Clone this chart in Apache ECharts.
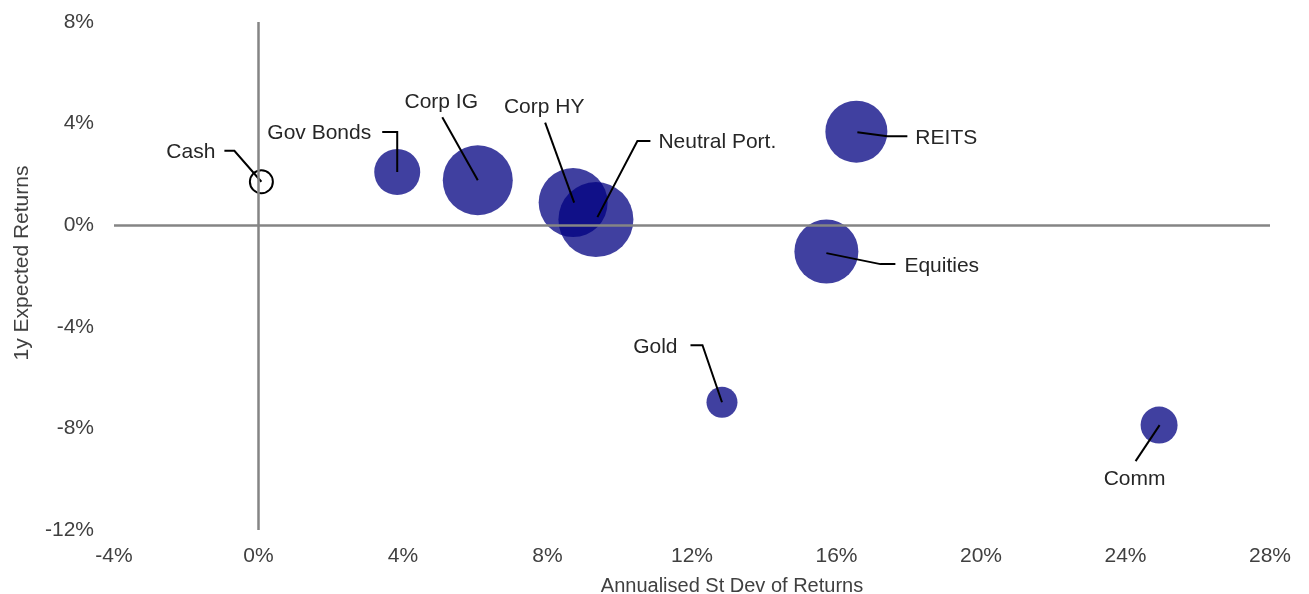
<!DOCTYPE html>
<html>
<head>
<meta charset="utf-8">
<script src="https://cdn.jsdelivr.net/npm/echarts@6/dist/echarts.min.js"></script>
<style>
html,body{margin:0;padding:0;background:#fff;}
#chart{width:1309px;height:594px;}
</style>
</head>
<body>
<div id="chart"></div>
<script>
// ---- Data ----
const assets      = ['Cash', 'Gov Bonds', 'Corp IG', 'Corp HY', 'Neutral Port.', 'REITS', 'Equities', 'Gold', 'Comm'];
const stdDev      = [0.08, 3.84, 6.07, 8.71, 9.34, 16.55, 15.72, 12.83, 24.93];   // x, %
const expReturn   = [1.71, 2.09, 1.77, 0.89, 0.22, 3.68, -1.04, -6.97, -7.87];   // y, %
const bubbleValue = [23, 46, 70, 69, 75, 62, 64, 31, 37];                          // bubble diameter value
const xTicks = [-4, 0, 4, 8, 12, 16, 20, 24, 28];
const yTicks = [-12, -8, -4, 0, 4, 8];

// ---- Label leader layout (pixel offsets from bubble centre; presentation only) ----
const leaders = [
  { pts: [[0,0],[-27,-31],[-37,-31]],          text: [-46,-30], align: 'right'  },
  { pts: [[0,0],[0,-40],[-15,-40]],            text: [-26,-39], align: 'right'  },
  { pts: [[0,0],[-35.5,-63]],                  text: [-36.5,-78], align: 'center' },
  { pts: [[1,0],[-28,-80]],                    text: [-29,-95.5], align: 'center' },
  { pts: [[1.5,-2.5],[41.5,-78.5],[54.5,-78.5]], text: [62.5,-77.5], align: 'left' },
  { pts: [[1,0.5],[31,4.5],[51,4.5]],          text: [59,6.5], align: 'left'   },
  { pts: [[0,1.5],[54,12.5],[69,12.5]],        text: [78,14.5], align: 'left'  },
  { pts: [[0,0],[-19.5,-57],[-31.5,-57]],      text: [-44.5,-55], align: 'right' },
  { pts: [[0.5,0],[-23.5,36]],                 text: [-24.5,54], align: 'center' }
];

const FONT = "'Liberation Sans', Arial, sans-serif";
const bubbleData = assets.map((n, i) => {
  const d = { name: n, value: [stdDev[i], expReturn[i], bubbleValue[i]] };
  if (n === 'Cash') {
    d.itemStyle = { color: 'rgba(255,255,255,0)', borderColor: '#000', borderWidth: 2, opacity: 1 };
  }
  return d;
});
const labelData = assets.map((n, i) => [stdDev[i], expReturn[i], i]);

const chart = echarts.init(document.getElementById('chart'), null, { renderer: 'canvas' });
chart.setOption({
  animation: false,
  backgroundColor: '#fff',
  grid: { left: 114, right: 39, top: 22, bottom: 64, containLabel: false, outerBoundsMode: 'none' },
  xAxis: {
    type: 'value', min: xTicks[0], max: xTicks[xTicks.length - 1], interval: 4,
    axisLine: { show: false }, axisTick: { show: false }, splitLine: { show: false },
    axisLabel: { formatter: '{value}%', color: '#404040', fontSize: 21, fontFamily: FONT, margin: 16 },
    name: 'Annualised St Dev of Returns', nameLocation: 'middle', nameGap: 46,
    nameTextStyle: { color: '#404040', fontSize: 20, fontFamily: FONT, padding: [0, 0, 0, 80] }
  },
  yAxis: {
    type: 'value', min: yTicks[0], max: yTicks[yTicks.length - 1], interval: 4,
    axisLine: { show: false }, axisTick: { show: false }, splitLine: { show: false },
    axisLabel: { formatter: '{value}%', color: '#404040', fontSize: 21, fontFamily: FONT, margin: 20 },
    name: '1y Expected Returns', nameLocation: 'middle', nameGap: 81,
    nameTextStyle: { color: '#404040', fontSize: 21, fontFamily: FONT, padding: [0, 0, 0, 26] }
  },
  series: [
    {
      type: 'scatter', z: 1, data: [], silent: true,
      markLine: {
        silent: true, symbol: 'none', label: { show: false },
        lineStyle: { color: '#858585', width: 2.5, type: 'solid' },
        data: [{ xAxis: 0 }, { yAxis: 0 }]
      }
    },
    {
      type: 'scatter', z: 2,
      data: bubbleData,
      symbolSize: v => v[2],
      itemStyle: { color: 'rgba(0,0,128,0.75)', opacity: 1 }
    },
    {
      type: 'custom', z: 3, silent: true,
      data: labelData,
      renderItem: function (params, api) {
        const c = api.coord([api.value(0), api.value(1)]);
        const L = leaders[api.value(2)];
        return {
          type: 'group',
          children: [
            {
              type: 'polyline',
              shape: { points: L.pts.map(p => [c[0] + p[0], c[1] + p[1]]) },
              style: { stroke: '#000', lineWidth: 2, fill: null }
            },
            {
              type: 'text',
              style: {
                text: assets[api.value(2)],
                x: c[0] + L.text[0], y: c[1] + L.text[1],
                align: L.align, verticalAlign: 'middle',
                fill: '#262626', fontSize: 21, fontFamily: FONT
              }
            }
          ]
        };
      }
    }
  ]
});
</script>
</body>
</html>
